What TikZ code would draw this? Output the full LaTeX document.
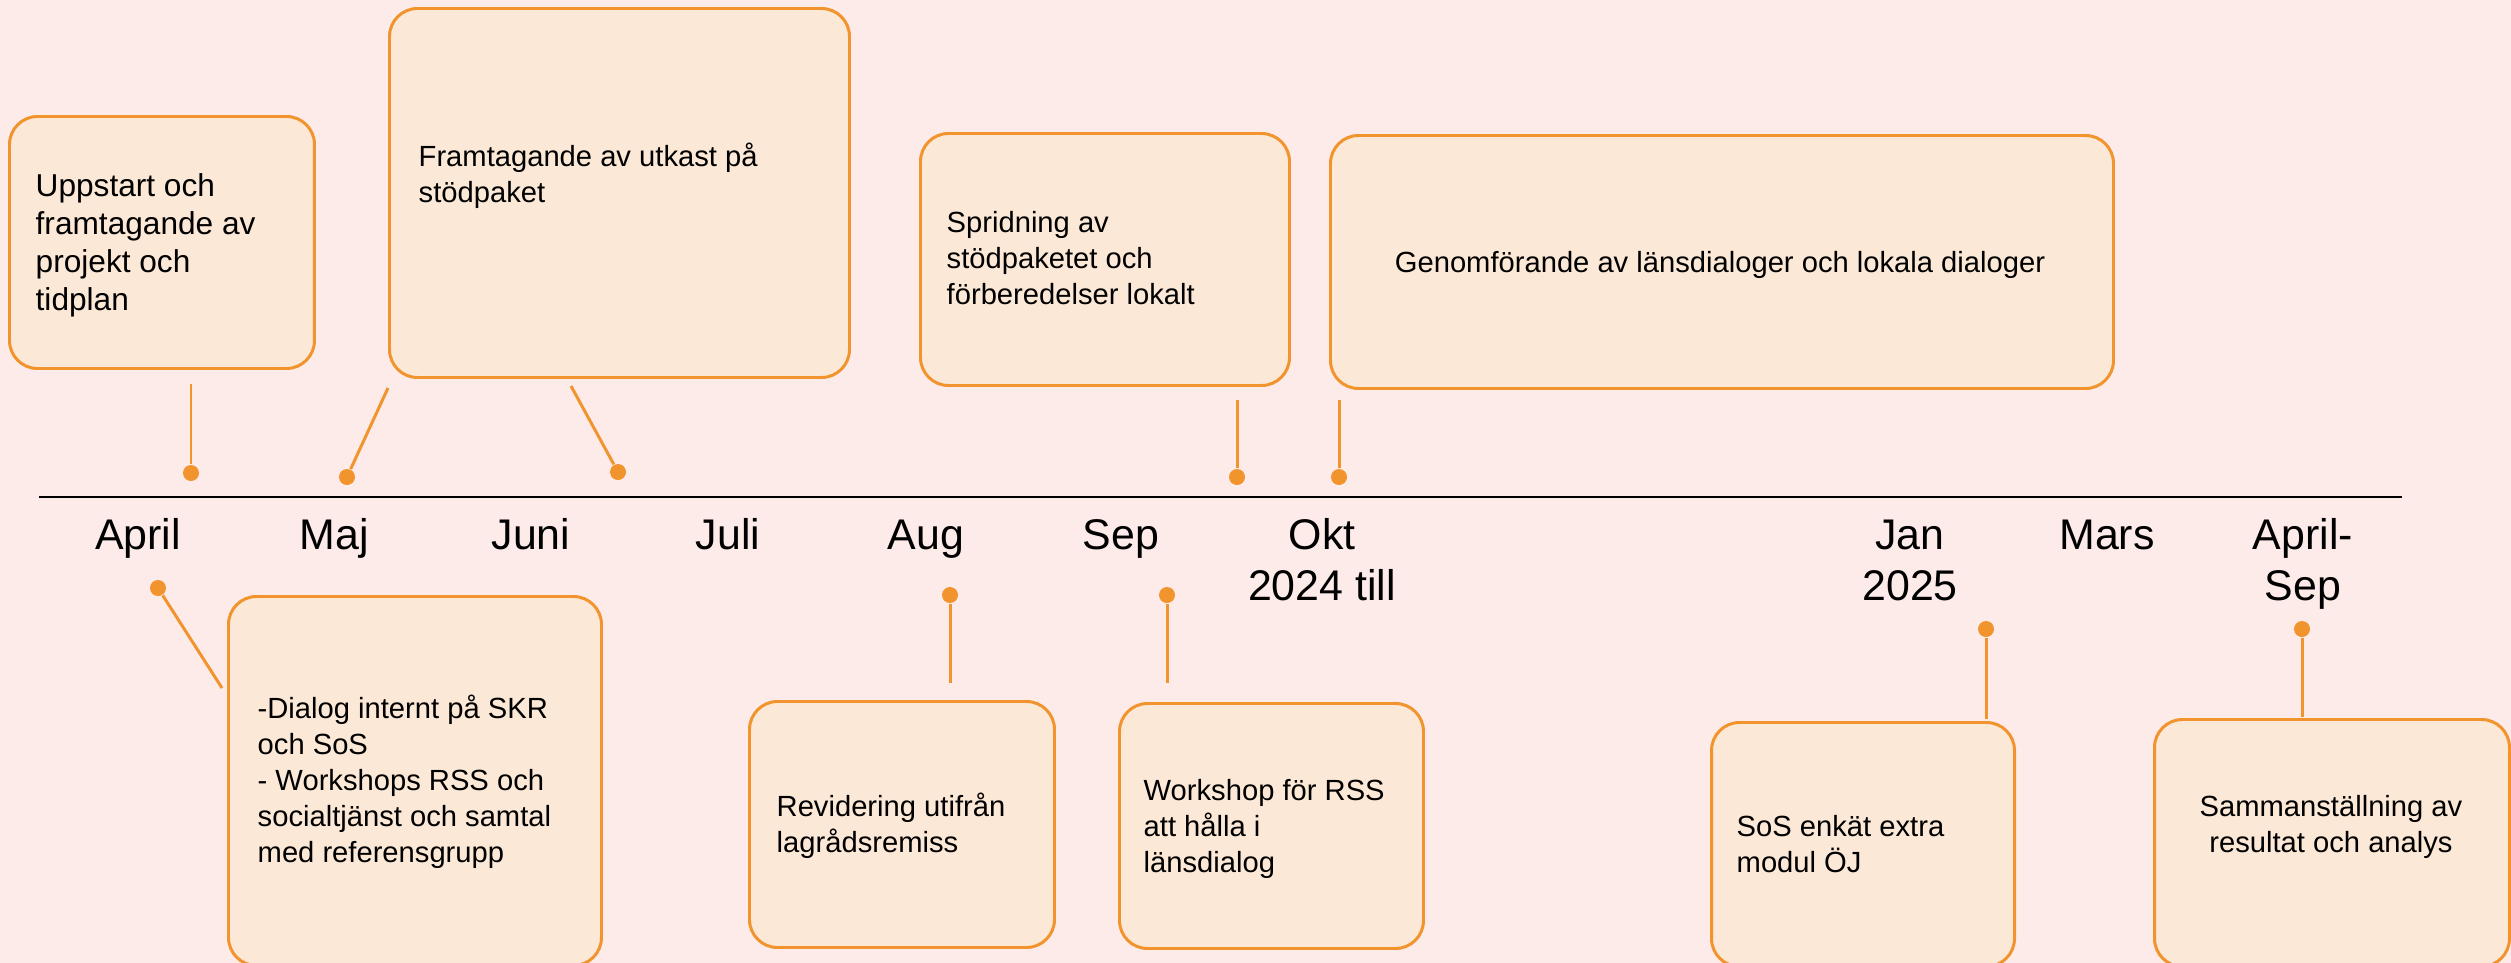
\documentclass[tikz,border=0pt]{standalone}
\usepackage{fontspec}
\setmainfont{Liberation Sans}
\definecolor{bgpink}{RGB}{253,235,233}
\definecolor{boxfill}{RGB}{252,232,214}
\definecolor{tlorange}{RGB}{241,148,45}
\tikzset{
	phase/.style={draw=tlorange, fill=boxfill, line width=0.85pt, rounded corners=2.8mm, inner sep=0pt, anchor=north west},
	note/.style={align=left, inner sep=0pt, anchor=base west},
	month/.style={align=center, inner sep=0pt, anchor=base, font=\fontsize{12.2}{14.5}\selectfont},
	dot/.style={circle, fill=tlorange, inner sep=0pt, minimum size=1.6mm},
	link/.style={draw=tlorange, line width=0.85pt}
}
\begin{document}
\begin{tikzpicture}[x=0.1mm, y=-0.1mm, font=\fontsize{8.3}{10.2}\selectfont]
	%background
	\fill[bgpink] (0,0) rectangle (2511,963);
	\useasboundingbox (0,0) rectangle (2511,963);
	\clip (0,0) rectangle (2511,963);
	%axis
	\coordinate (axis start) at (39,497);
	\coordinate (axis end) at (2402,497);
	\draw[line width=0.6pt] (axis start) -- (axis end);
	%months (base = last line)
	\foreach \x/\y/\mtext in {138/549/April, 334/549/Maj, 531/549/Juni, 728/549/Juli,
		926/549/Aug, 1121/549/Sep, 1322/600/Okt\\2024 till, 1910/600/Jan\\2025,
		2107/549/Mars, 2303/600/April-\\Sep}
	\node[month] (m\x) at (\x,\y) {\mtext};
	%phases above the axis
	\node[phase, minimum width=30.5mm, minimum height=25.2mm] (p1) at (8,115) {};
	\node[phase, minimum width=46mm, minimum height=36.9mm] (p2) at (388,7) {};
	\node[phase, minimum width=36.9mm, minimum height=25.2mm] (p3) at (919,132) {};
	\node[phase, minimum width=78.3mm, minimum height=25.3mm] (p4) at (1329,134) {};
	\node[note, font=\fontsize{9}{10.8}\selectfont] (t1) at (35,310)
		{Uppstart och\\framtagande av\\projekt och\\tidplan};
	\node[note] (t2) at (418,202) {Framtagande av utkast på\\stödpaket};
	\node[note] (t3) at (946,304) {Spridning av\\stödpaketet och\\förberedelser lokalt};
	\node[note, anchor=base, align=center] (t4) at (1720,272)
		{Genomförande av länsdialoger och lokala dialoger};
	%phases below the axis
	\node[phase, minimum width=37.3mm, minimum height=36.9mm] (q1) at (227,595) {};
	\node[phase, minimum width=30.5mm, minimum height=24.6mm] (q2) at (748,700) {};
	\node[phase, minimum width=30.4mm, minimum height=24.5mm] (q3) at (1118,702) {};
	\node[phase, minimum width=30.3mm, minimum height=24.4mm] (q4) at (1710,721) {};
	\node[phase, minimum width=35.5mm, minimum height=24.7mm] (q5) at (2153,718) {};
	\node[note] (s1) at (257,862)
		{-Dialog internt på SKR\\och SoS\\- Workshops RSS och\\socialtjänst och samtal\\med referensgrupp};
	\node[note] (s2) at (776,852) {Revidering utifrån\\lagrådsremiss};
	\node[note] (s3) at (1143,872) {Workshop för RSS\\att hålla i\\länsdialog};
	\node[note] (s4) at (1736,872) {SoS enkät extra\\modul ÖJ};
	\node[note, anchor=base, align=center] (s5) at (2331,852)
		{Sammanställning av\\resultat och analys};
	%markers
	\foreach \name/\dx/\dy/\cx/\cy in {
		dA/191/473/191/384,
		dM/347/477/388/388,
		dJ/618/472/571/386,
		dS/1237/477/1237/400,
		dO/1339/477/1339/400,
		eA/158/588/222/688,
		eAug/950/595/950/683,
		eSep/1167/595/1167/683,
		eJan/1986/629/1986/719,
		eAS/2302/629/2302/717}
	{
		\node[dot] (\name) at (\dx,\dy) {};
		\coordinate (\name end) at (\cx,\cy);
		\draw[link] (\name end) -- (\name);
	}
\end{tikzpicture}
\end{document}
